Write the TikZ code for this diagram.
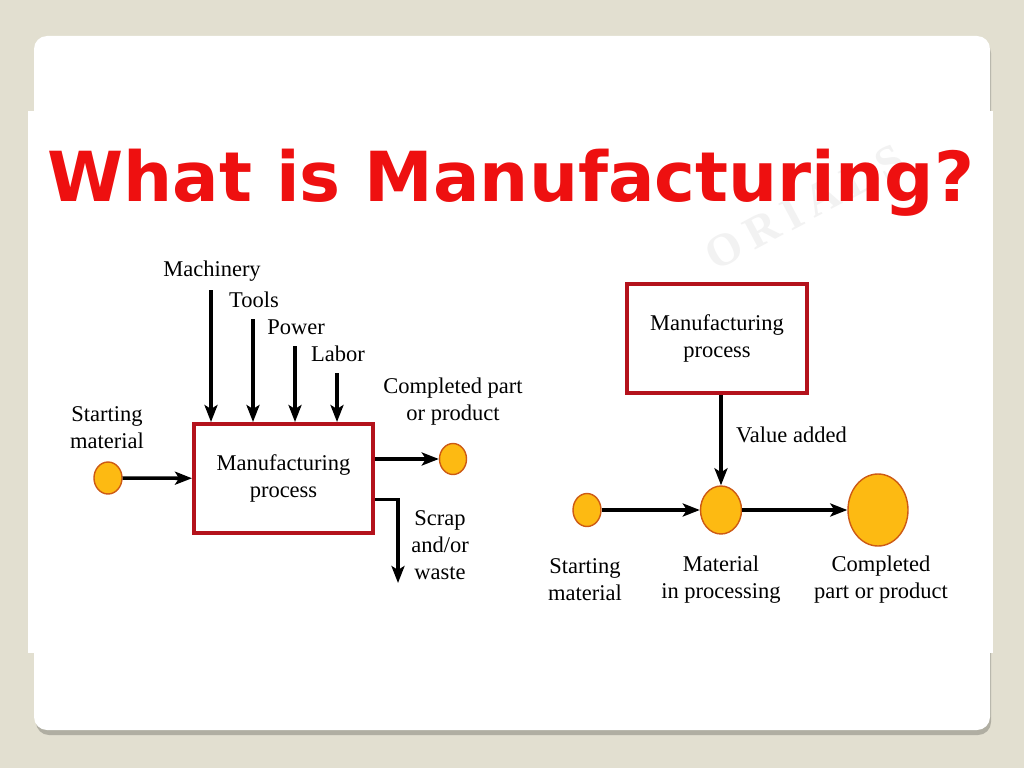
\documentclass[tikz,border=0pt]{standalone}
\usepackage{fontspec}
\setmainfont{Liberation Serif}
\newfontfamily\titlefont{DejaVu Sans}
\usetikzlibrary{arrows.meta,shapes.geometric,positioning}
\definecolor{slidebg}{RGB}{226,223,208}
\definecolor{boxred}{RGB}{180,18,28}
\definecolor{titlered}{RGB}{238,16,16}
\definecolor{blobfill}{RGB}{253,186,18}
\definecolor{blobdraw}{RGB}{205,90,20}
\tikzset{
 procbox/.style={draw=boxred,line width=4pt,align=center,inner sep=0pt},
 blob/.style={ellipse,fill=blobfill,draw=blobdraw,line width=1.4pt,inner sep=0pt},
 flow/.style={line width=3.6pt,-{Stealth[length=17pt,width=13pt,inset=4pt]}},
 lbl/.style={align=center,inner sep=0pt}
}
\begin{document}
\begin{tikzpicture}[x=1pt,y=-1pt,font=\fontsize{22.5}{27}\selectfont]
\fill[slidebg] (0,0) rectangle (1024,768);
\useasboundingbox (0,0) rectangle (1024,768);
\fill[black!22!slidebg,rounded corners=13pt] (36,40) rectangle (991,735);
\fill[white,rounded corners=13pt] (34,36) rectangle (990,730);
\fill[white] (28,111) rectangle (993,653);
\node[rotate=28,text=black!5,font=\bfseries\fontsize{46}{46}\selectfont\addfontfeatures{LetterSpace=18}] (mark) at (805,207) {ORIALS};
\node[anchor=base west,inner sep=0pt,text=titlered,font=\titlefont\bfseries\fontsize{69}{69}\selectfont] (title) at (47,201) {What is Manufacturing?};
% left: inputs and outputs
\node[procbox,minimum width=179pt,minimum height=109pt] (lbox) at (283.5,478.5) {Manufacturing\\process};
\foreach \x/\y/\name/\txt in {211/290/mach/Machinery,253/319/tool/Tools,295/346/pow/Power,337/373/lab/Labor}{
\coordinate (\name) at (\x,\y);
\node[lbl] (\name txt) at (\x+1,\y-19) {\txt};
\draw[flow] (\name) -- (\name |- lbox.north);
}
\node[blob,minimum width=28pt,minimum height=32pt] (lstart) at (108,478) {};
\node[lbl] (lstarttxt) at (107,428) {Starting\\material};
\draw[flow] (lstart) -- (lbox);
\node[blob,minimum width=27pt,minimum height=31pt] (lpart) at (453,459) {};
\node[lbl] (lparttxt) at (453,402) {Completed part\\or product};
\draw[flow] (lbox.east |- lpart) -- (lpart);
\coordinate (lscrap) at (398,583);
\draw[flow] ([yshift=-21pt]lbox.east) -| (lscrap);
\node[lbl] (lscraptxt) at (440,545) {Scrap\\and/or\\waste};
% right: value added
\node[procbox,minimum width=180pt,minimum height=109pt] (rbox) at (717,338.5) {Manufacturing\\process};
\node[blob,minimum width=28pt,minimum height=33pt] (rstart) at (587,510) {};
\node[blob,minimum width=41pt,minimum height=48pt] (rmid) at (721,510) {};
\node[blob,minimum width=60pt,minimum height=72pt] (rend) at (878,510) {};
\draw[flow] (rbox.south -| rmid) -- (rmid);
\node[lbl,anchor=west] (valtxt) at (736,435) {Value added};
\draw[flow] (rstart) -- (rmid);
\draw[flow] (rmid) -- (rend);
\foreach \n/\x/\txt in {rstart/585/{Starting\\material},rmid/721/{Material\\in processing},rend/881/{Completed\\part or product}}
\node[lbl] (\n txt) at (\x,580) {\txt};
\end{tikzpicture}
\end{document}
